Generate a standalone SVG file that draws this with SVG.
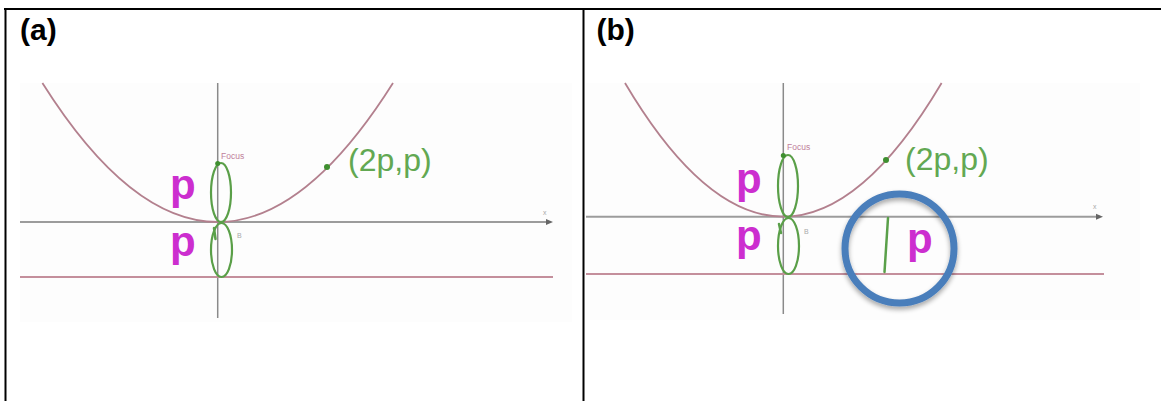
<svg xmlns="http://www.w3.org/2000/svg" width="1161" height="401" viewBox="0 0 1161 401">
  <defs>
    <style>
      .frame { stroke: #000; stroke-width: 2; fill: none; }
      .label { font-family: "Liberation Sans", Arial, sans-serif; font-weight: bold; font-size: 30px; fill: #000; }
      .bg { fill: #fdfdfd; }
      .axis { stroke: #9c9c9c; stroke-width: 2; fill: none; }
      .vaxis { stroke: #8a8a8a; stroke-width: 1.5; fill: none; }
      .directrix { stroke: #c48f9c; stroke-width: 2; fill: none; }
      .parabola { stroke: #b3808e; stroke-width: 1.8; fill: none; }
      .loop { stroke: #5a9f48; stroke-width: 2.2; fill: none; }
      .pen { stroke: #5aa04a; stroke-width: 2.5; fill: none; stroke-linecap: round; }
      .p { font-family: "Liberation Sans", Arial, sans-serif; font-weight: bold; font-size: 42px; fill: #cc2ecf; }
      .hand { font-family: "Liberation Sans", Arial, sans-serif; font-size: 32px; fill: #62a852; }
      .focus { font-family: "Liberation Sans", Arial, sans-serif; font-size: 8.5px; fill: #c0809a; }
      .tiny { font-family: "Liberation Sans", Arial, sans-serif; font-size: 7px; fill: #aaaaaa; }
      .dot { fill: #3f8f30; }
      .arrowhead { fill: #666; }
      .ring { stroke: #4a7ebb; stroke-width: 7; fill: none; }
    </style>
    <filter id="shadow" x="-30%" y="-30%" width="160%" height="160%">
      <feGaussianBlur in="SourceAlpha" stdDeviation="2.5"/>
      <feOffset dx="0" dy="3" result="b"/>
      <feComponentTransfer><feFuncA type="linear" slope="0.35"/></feComponentTransfer>
      <feMerge><feMergeNode/><feMergeNode in="SourceGraphic"/></feMerge>
    </filter>
  </defs>

  <rect width="1161" height="401" fill="#ffffff"/>

  <g id="table">
    <line class="frame" x1="4" y1="9" x2="1161" y2="9"/>
    <line class="frame" x1="5.5" y1="8" x2="5.5" y2="401"/>
    <line class="frame" x1="583.5" y1="8" x2="583.5" y2="401"/>
  </g>

  <g id="panel-a">
    <text class="label" x="20" y="40">(a)</text>
    <rect class="bg" x="20" y="83" width="552" height="239"/>
    <line class="axis" x1="20" y1="222" x2="550" y2="222"/>
    <polygon class="arrowhead" points="546,219 553,222 546,225"/>
    <text class="tiny" x="543" y="215">x</text>
    <line class="vaxis" x1="217.7" y1="83" x2="217.7" y2="318"/>
    <line class="directrix" x1="20" y1="277" x2="553" y2="277"/>
    <path class="parabola" d="M42.4,83 Q217.7,361 393,83"/>
    <ellipse class="loop" cx="221" cy="192.5" rx="10" ry="29.5"/>
    <ellipse class="loop" cx="221.5" cy="250" rx="10.5" ry="27"/>
    <line class="pen" x1="214" y1="228" x2="215.5" y2="239" stroke-width="2"/>
    <circle class="dot" cx="217.7" cy="163.5" r="2.5"/>
    <text class="focus" x="221" y="159">Focus</text>
    <text class="tiny" x="237" y="238">B</text>
    <circle class="dot" cx="327" cy="167" r="3"/>
    <text class="hand" x="348" y="171">(2p,p)</text>
    <text class="p" x="170" y="199">p</text>
    <text class="p" x="170" y="256">p</text>
  </g>

  <g id="panel-b">
    <text class="label" x="596.5" y="40">(b)</text>
    <rect class="bg" x="586" y="83" width="554" height="237"/>
    <line class="axis" x1="586" y1="216.7" x2="1100" y2="216.7"/>
    <polygon class="arrowhead" points="1096,213.7 1103,216.7 1096,219.7"/>
    <text class="tiny" x="1093" y="209">x</text>
    <line class="vaxis" x1="783.3" y1="83" x2="783.3" y2="314"/>
    <line class="directrix" x1="586" y1="274" x2="1104" y2="274"/>
    <path class="parabola" d="M625,83 Q783.3,350.4 941.6,83"/>
    <ellipse class="loop" cx="788" cy="186" rx="10" ry="31"/>
    <ellipse class="loop" cx="788.5" cy="246" rx="10.5" ry="28"/>
    <line class="pen" x1="779" y1="224" x2="781" y2="233" stroke-width="2"/>
    <circle class="dot" cx="783.3" cy="155.5" r="2.5"/>
    <text class="focus" x="787" y="150">Focus</text>
    <text class="tiny" x="804" y="234">B</text>
    <circle class="dot" cx="886" cy="160" r="3"/>
    <text class="hand" x="905" y="170" font-size="33">(2p,p)</text>
    <text class="p" x="736" y="193">p</text>
    <text class="p" x="736" y="250">p</text>
    <line class="pen" x1="888" y1="218" x2="884.5" y2="272"/>
    <text class="p" x="907" y="253">p</text>
    <circle class="ring" cx="899.5" cy="248.5" r="54.5" filter="url(#shadow)"/>
  </g>
</svg>
